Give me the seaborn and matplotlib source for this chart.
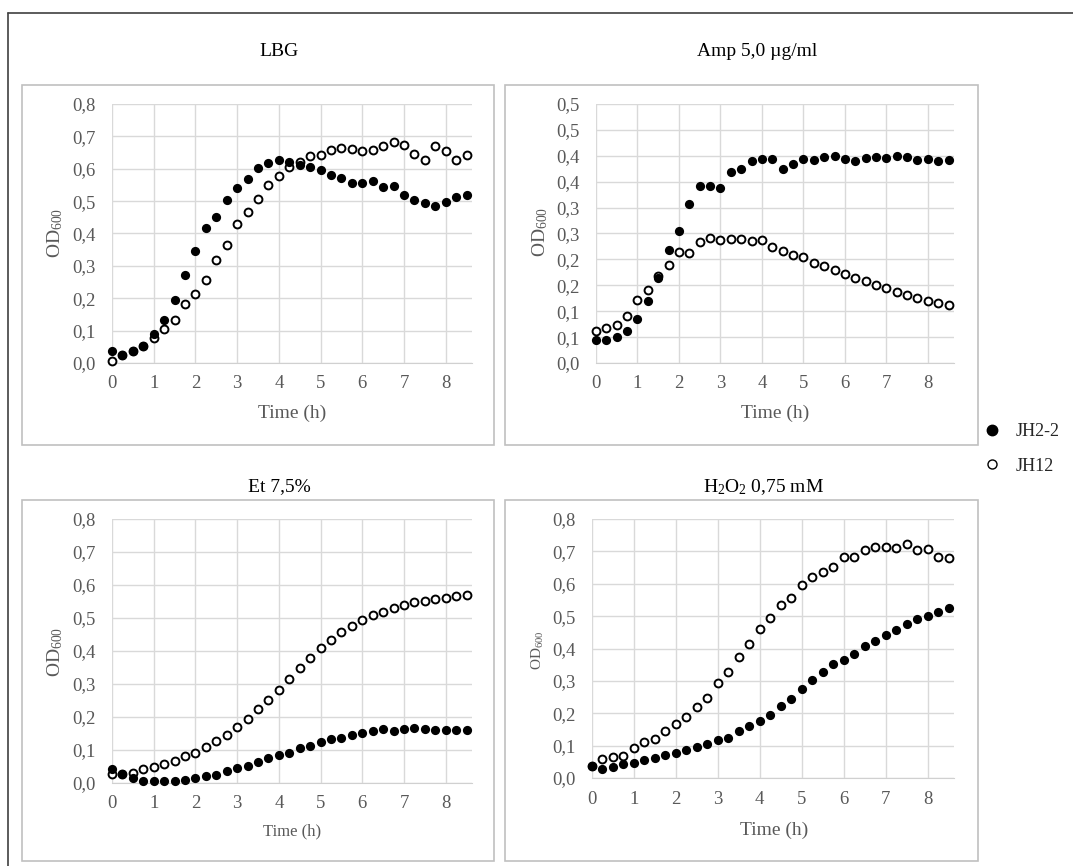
import matplotlib
matplotlib.use("Agg")
import matplotlib.pyplot as plt
from matplotlib.lines import Line2D
from matplotlib.patches import Rectangle
import numpy as np
import pandas as pd
import seaborn as sns

# sampling times (h)
time_h = [i * 0.25 for i in range(35)]

# LBG
lbg_jh22 = [0.038, 0.026, 0.036, 0.054, 0.091, 0.134, 0.194, 0.271, 0.347, 0.417,
            0.450, 0.502, 0.541, 0.568, 0.601, 0.618, 0.628, 0.620, 0.613, 0.606,
            0.596, 0.582, 0.572, 0.557, 0.555, 0.561, 0.544, 0.546, 0.519, 0.502,
            0.494, 0.484, 0.498, 0.512, 0.520]
lbg_jh12 = [0.005, 0.026, 0.036, 0.054, 0.077, 0.105, 0.132, 0.182, 0.214, 0.257,
            0.317, 0.366, 0.429, 0.467, 0.507, 0.549, 0.579, 0.605, 0.622, 0.639,
            0.644, 0.657, 0.663, 0.661, 0.656, 0.659, 0.669, 0.683, 0.672, 0.647,
            0.628, 0.669, 0.654, 0.628, 0.642]

# Amp 5,0 ug/ml
amp_jh22 = [0.044, 0.045, 0.050, 0.062, 0.085, 0.120, 0.164, 0.219, 0.255, 0.306,
            0.342, 0.341, 0.337, 0.368, 0.375, 0.389, 0.393, 0.394, 0.375, 0.385,
            0.394, 0.391, 0.398, 0.399, 0.393, 0.389, 0.395, 0.398, 0.395, 0.400,
            0.397, 0.391, 0.394, 0.389, 0.391]
amp_jh12 = [0.062, 0.067, 0.074, 0.091, 0.122, 0.140, 0.167, 0.189, 0.214, 0.212,
            0.234, 0.241, 0.237, 0.239, 0.240, 0.235, 0.238, 0.223, 0.216, 0.209,
            0.204, 0.194, 0.187, 0.179, 0.172, 0.165, 0.158, 0.151, 0.145, 0.138,
            0.132, 0.125, 0.120, 0.115, 0.112]

# Et 7,5%
et_jh22 = [0.041, 0.028, 0.016, 0.006, 0.005, 0.005, 0.006, 0.010, 0.016, 0.020,
           0.025, 0.035, 0.046, 0.052, 0.064, 0.077, 0.084, 0.092, 0.106, 0.112,
           0.123, 0.132, 0.136, 0.146, 0.151, 0.159, 0.163, 0.158, 0.164, 0.167,
           0.165, 0.160, 0.162, 0.160, 0.162]
et_jh12 = [0.028, 0.028, 0.030, 0.041, 0.049, 0.057, 0.067, 0.081, 0.092, 0.109,
           0.127, 0.145, 0.170, 0.195, 0.223, 0.253, 0.282, 0.315, 0.347, 0.378,
           0.410, 0.433, 0.457, 0.476, 0.494, 0.509, 0.519, 0.530, 0.540, 0.547,
           0.553, 0.557, 0.560, 0.568, 0.570]

# H2O2 0,75 mM
h2o2_jh22 = [0.036, 0.029, 0.034, 0.044, 0.047, 0.055, 0.063, 0.072, 0.078, 0.088,
             0.096, 0.106, 0.117, 0.125, 0.144, 0.160, 0.176, 0.194, 0.222, 0.244,
             0.275, 0.304, 0.327, 0.352, 0.366, 0.383, 0.409, 0.423, 0.442, 0.457,
             0.476, 0.490, 0.501, 0.514, 0.524]
h2o2_jh12 = [0.036, 0.059, 0.065, 0.068, 0.093, 0.111, 0.122, 0.144, 0.166, 0.187,
             0.218, 0.248, 0.292, 0.327, 0.373, 0.414, 0.460, 0.495, 0.535, 0.556,
             0.596, 0.622, 0.635, 0.651, 0.682, 0.684, 0.703, 0.715, 0.715, 0.711,
             0.722, 0.703, 0.708, 0.682, 0.679]

strains = ["JH2-2", "JH12"]
titles = ["LBG", "Amp 5,0 µg/ml", "Et 7,5%", "H$_2$O$_2$ 0,75 mM"]
x_ticks = [0, 1, 2, 3, 4, 5, 6, 7, 8]
od_ticks = [0.0, 0.1, 0.2, 0.3, 0.4, 0.5, 0.6, 0.7, 0.8]
od_labels = ["0,0", "0,1", "0,2", "0,3", "0,4", "0,5", "0,6", "0,7", "0,8"]
amp_ticks = [0.0, 0.05, 0.1, 0.15, 0.2, 0.25, 0.3, 0.35, 0.4, 0.45, 0.5]
amp_labels = ["0,0", "0,1", "0,1", "0,2", "0,2", "0,3", "0,3", "0,4", "0,4", "0,5", "0,5"]

sns.set_style("white")
plt.rcParams['font.family'] = ['Liberation Serif', 'DejaVu Serif']
plt.rcParams['mathtext.default'] = 'regular'

W, H = 1073, 866
def fx(x):
    return x / W
def fy(y):
    return 1 - y / H

fig = plt.figure(figsize=(W / 100, H / 100), dpi=100)

# outer frame (left + top)
fig.add_artist(Line2D([fx(8), fx(8)], [fy(13), 0], transform=fig.transFigure, color='#404040', lw=1.2))
fig.add_artist(Line2D([fx(8), 1], [fy(13), fy(13)], transform=fig.transFigure, color='#404040', lw=1.2))

panels = [
    dict(data=(lbg_jh22, lbg_jh12), box=(22, 85, 494, 445), ax=(112, 104, 472, 363),
         ticks=od_ticks, labels=od_labels, title_xy=(279, 52), xlab=(292, 413), ylab=(55, 233),
         xlab_fs=14, ylab_fs=14),
    dict(data=(amp_jh22, amp_jh12), box=(505, 85, 978, 445), ax=(596, 104, 954, 363),
         ticks=amp_ticks, labels=amp_labels, title_xy=(757, 52), xlab=(775, 413), ylab=(540, 232),
         xlab_fs=14, ylab_fs=14),
    dict(data=(et_jh22, et_jh12), box=(22, 500, 494, 861), ax=(112, 519, 472, 783),
         ticks=od_ticks, labels=od_labels, title_xy=(279, 487), xlab=(292, 831), ylab=(55, 652),
         xlab_fs=12, ylab_fs=14),
    dict(data=(h2o2_jh22, h2o2_jh12), box=(505, 500, 978, 861), ax=(592, 519, 954, 778),
         ticks=od_ticks, labels=od_labels, title_xy=(763, 487), xlab=(774, 830), ylab=(538, 650),
         xlab_fs=14, ylab_fs=11),
]

grey = '#595959'
for p, title in zip(panels, titles):
    bx0, by0, bx1, by1 = p['box']
    fig.patches.append(Rectangle((fx(bx0), fy(by1)), (bx1 - bx0) / W, (by1 - by0) / H,
                                 transform=fig.transFigure, fill=False,
                                 edgecolor='#c0c0c0', lw=1.2))
    x0, y0, x1, y1 = p['ax']
    ax = fig.add_axes([fx(x0), fy(y1), (x1 - x0) / W, (y1 - y0) / H])

    jh22, jh12 = p['data']
    df = pd.DataFrame({'time': time_h * 2, 'od': jh22 + jh12,
                       'strain': [strains[0]] * 35 + [strains[1]] * 35})
    sns.scatterplot(data=df[df.strain == 'JH12'], x='time', y='od', color='white',
                    edgecolor='black', linewidth=1.4, s=32, ax=ax, legend=False,
                    clip_on=False, zorder=3)
    sns.scatterplot(data=df[df.strain == 'JH2-2'], x='time', y='od', color='black',
                    edgecolor='black', linewidth=0, s=44, ax=ax, legend=False,
                    clip_on=False, zorder=4)

    ax.set_xlim(0, 8.63)
    ax.set_ylim(0, p['ticks'][-1])
    ax.set_xticks(x_ticks)
    ax.set_xticklabels([str(t) for t in x_ticks])
    ax.set_yticks(p['ticks'])
    ax.set_yticklabels(p['labels'])
    ax.grid(True, color='#d9d9d9', lw=1)
    ax.set_axisbelow(True)
    for s in ['top', 'right', 'left']:
        ax.spines[s].set_visible(False)
    ax.spines['bottom'].set_color('#d0d0d0')
    ax.tick_params(length=0, labelcolor=grey, labelsize=13.5)
    ax.tick_params(axis='y', pad=12)
    ax.tick_params(axis='x', pad=9)
    ax.set_xlabel('')
    ax.set_ylabel('')

    fig.text(fx(p['title_xy'][0]), fy(p['title_xy'][1]), title, ha='center', va='center',
             fontsize=14, color='black')
    fig.text(fx(p['xlab'][0]), fy(p['xlab'][1]), 'Time (h)', ha='center', va='center',
             fontsize=p['xlab_fs'], color=grey)
    fig.text(fx(p['ylab'][0]), fy(p['ylab'][1]), 'OD$_{600}$', ha='center', va='center',
             rotation=90, fontsize=p['ylab_fs'], color=grey)

handles = [Line2D([], [], marker='o', ls='', markerfacecolor='black', markeredgecolor='black',
                  markersize=7.5),
           Line2D([], [], marker='o', ls='', markerfacecolor='white', markeredgecolor='black',
                  markeredgewidth=1.0, markersize=6.5)]
fig.legend(handles, strains, loc='center left', bbox_to_anchor=(fx(983), fy(449)),
           frameon=False, fontsize=13, handlelength=1.0, handletextpad=0.8,
           labelspacing=0.95, borderpad=0, borderaxespad=0)

fig.savefig("out.png", dpi=100)
